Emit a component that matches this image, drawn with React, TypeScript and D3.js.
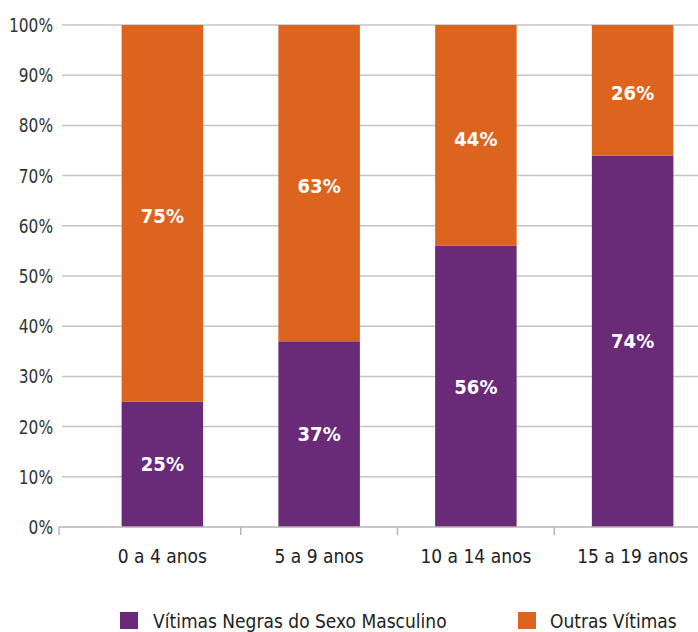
import React from "react";
import * as d3 from "d3";

const categories = ["0 a 4 anos", "5 a 9 anos", "10 a 14 anos", "15 a 19 anos"];
const negrasMasculino = [25, 37, 56, 74];
const outrasVitimas = [75, 63, 44, 26];
const yTicks = [0, 10, 20, 30, 40, 50, 60, 70, 80, 90, 100];
const seriesNames = ["Vítimas Negras do Sexo Masculino", "Outras Vítimas"];

const PURPLE = "#692a77";
const ORANGE = "#dd641f";
const FONT = "'DejaVu Sans Condensed', 'DejaVu Sans', sans-serif";

export default function App() {
  const W = 698, H = 632;
  const x = d3.scaleBand<string>().domain(categories).range([84, 711]).paddingInner(0.48).paddingOuter(0.24);
  const y = d3.scaleLinear().domain([0, 100]).range([527, 25]);
  const step = x.step();
  const bw = x.bandwidth();
  const tickXs = [59, ...categories.slice(1).map((c) => (x(c) as number) - (step - bw) / 2)];

  return (
    <svg width={W} height={H} style={{ position: "absolute", left: 0, top: 0, display: "block" }}>
      <rect width={W} height={H} fill="#fff" />
      {yTicks.map((t) => (
        <g key={t}>
          {t > 0 && <line x1={62} x2={W} y1={y(t)} y2={y(t)} stroke="#c4c4c4" strokeWidth={1.5} />}
          <text transform={`translate(53,${y(t) + 7}) scale(0.9,1)`} textAnchor="end" fontFamily={FONT} fontSize={19} fill="#333">
            {t}%
          </text>
        </g>
      ))}
      {categories.map((c, i) => {
        const x0 = x(c) as number;
        const yb0 = y(0), yb1 = y(negrasMasculino[i]);
        const yo1 = y(negrasMasculino[i] + outrasVitimas[i]);
        return (
          <g key={c}>
            <rect x={x0} y={yb1} width={bw} height={yb0 - yb1} fill={PURPLE} />
            <rect x={x0} y={yo1} width={bw} height={yb1 - yo1} fill={ORANGE} />
            <text x={x0 + bw / 2} y={(yb0 + yb1) / 2} dy="0.36em" textAnchor="middle" fontFamily={FONT} fontWeight="bold" fontSize={20} fill="#fff">
              {negrasMasculino[i]}%
            </text>
            <text x={x0 + bw / 2} y={(yb1 + yo1) / 2 + 3} dy="0.36em" textAnchor="middle" fontFamily={FONT} fontWeight="bold" fontSize={20} fill="#fff">
              {outrasVitimas[i]}%
            </text>
            <text x={x0 + bw / 2} y={563} textAnchor="middle" fontFamily={FONT} fontSize={19} fill="#222">
              {c}
            </text>
          </g>
        );
      })}
      <line x1={59} x2={W} y1={y(0)} y2={y(0)} stroke="#b4b4b4" strokeWidth={1.5} />
      {tickXs.map((tx, i) => (
        <line key={i} x1={tx} x2={tx} y1={y(0)} y2={y(0) + 8} stroke="#b4b4b4" strokeWidth={1.5} />
      ))}
      <g>
        <rect x={120} y={612} width={18} height={17} fill={PURPLE} />
        <text transform="translate(153,628) scale(0.95,1)" fontFamily={FONT} fontSize={20} fill="#222">{seriesNames[0]}</text>
        <rect x={518} y={612} width={18} height={17} fill={ORANGE} />
        <text transform="translate(550,628) scale(0.95,1)" fontFamily={FONT} fontSize={20} fill="#222">{seriesNames[1]}</text>
      </g>
    </svg>
  );
}
